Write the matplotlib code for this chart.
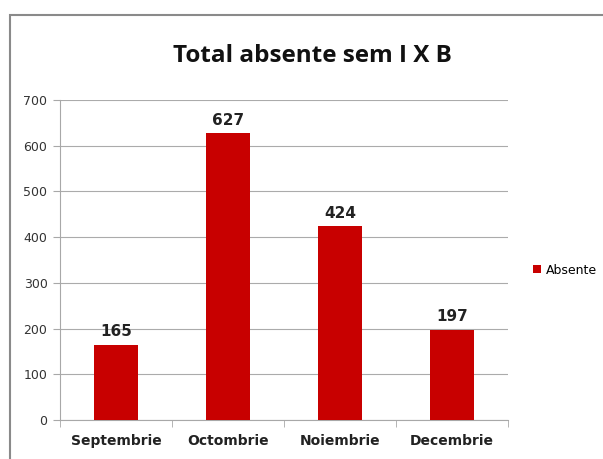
import matplotlib.pyplot as plt
from matplotlib.patches import Rectangle

categories = ["Septembrie", "Octombrie", "Noiembrie", "Decembrie"]
values = [165, 627, 424, 197]
series_name = "Absente"
title = "Total absente sem I X B"
yticks = [0, 100, 200, 300, 400, 500, 600, 700]

W, H = 603, 459
fig = plt.figure(figsize=(W / 100, H / 100), dpi=100)
fig.patch.set_facecolor("white")

# outer chart border (cropped at right/bottom)
fig.add_artist(Rectangle((10 / W, -0.05), 1.1, 1 - 15 / H + 0.05, transform=fig.transFigure,
                         fill=False, edgecolor="#8a8a8a", linewidth=1.5))

ax = fig.add_axes([60 / W, 1 - 420 / H, (508 - 60) / W, (420 - 100) / H])
x = range(len(categories))
bars = ax.bar(x, values, width=0.40, color="#C80000", label=series_name, zorder=3)
for xi, v in zip(x, values):
    ax.text(xi, v + 12, str(v), ha="center", va="bottom", fontsize=11,
            fontweight="bold", color="#222222")

ax.set_xlim(-0.5, len(categories) - 0.5)
ax.set_ylim(0, 700)
ax.set_yticks(yticks)
ax.set_yticklabels([str(t) for t in yticks], fontsize=9, color="#333333")
ax.set_xticks(list(x))
ax.set_xticklabels(categories, fontsize=10, fontweight="bold", color="#222222")
ax.tick_params(axis="x", length=0, pad=10)
ax.tick_params(axis="y", length=5, color="#a8a8a8", pad=4)
ax.set_xticks([i + 0.5 for i in range(-1, len(categories))], minor=True)
ax.tick_params(axis="x", which="minor", length=5, color="#a8a8a8")
ax.grid(axis="y", color="#ababab", linewidth=0.8, zorder=0)
for s in ["top", "right"]:
    ax.spines[s].set_visible(False)
ax.spines["left"].set_color("#a8a8a8")
ax.spines["bottom"].set_color("#a8a8a8")

fig.text(312 / W, 1 - 56 / H, title, ha="center", va="center", fontsize=17.5,
         fontweight="bold", family=["Open Sans", "DejaVu Sans"], color="#111111")

fig.legend(handles=[bars], labels=[series_name], loc="center left",
           bbox_to_anchor=(522 / W, 1 - 270 / H), frameon=False, fontsize=9,
           handlelength=0.6, handleheight=0.6, handletextpad=0.4)

fig.savefig("out.png", dpi=100)
